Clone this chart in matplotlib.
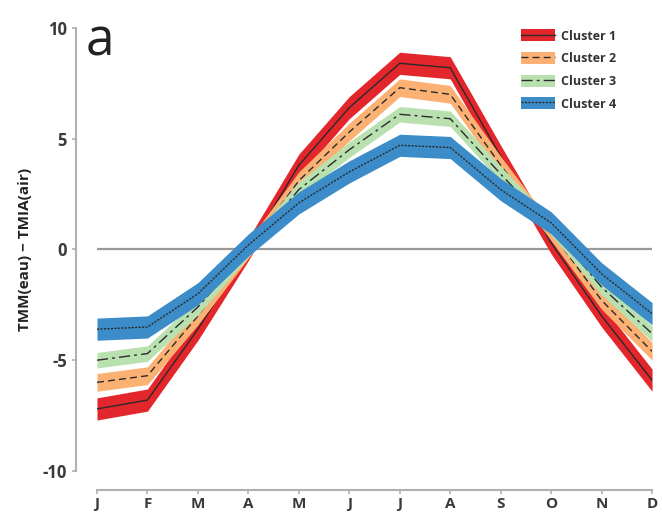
import matplotlib
matplotlib.use("Agg")

import numpy as np
import matplotlib.pyplot as plt
from matplotlib.patches import Patch
from matplotlib.lines import Line2D

# mois
months = ["J", "F", "M", "A", "M", "J", "J", "A", "S", "O", "N", "D"]

# TMM(eau) - TMIA(air) par cluster
cluster1 = [-7.2, -6.8, -3.6, 0.0, 3.8, 6.4, 8.4, 8.2, 4.2, 0.3, -3.0, -5.9]
cluster2 = [-6.0, -5.7, -3.0, 0.0, 3.1, 5.3, 7.3, 7.0, 3.8, 0.8, -2.3, -4.6]
cluster3 = [-5.0, -4.7, -2.6, 0.0, 2.7, 4.5, 6.1, 5.9, 3.4, 1.0, -1.7, -3.8]
cluster4 = [-3.6, -3.5, -2.0, 0.2, 2.1, 3.5, 4.7, 4.6, 2.7, 1.2, -1.1, -2.9]

# demi-largeur des bandes
spread = [0.5, 0.4, 0.35, 0.5]

names = ["Cluster 1", "Cluster 2", "Cluster 3", "Cluster 4"]
fills = ["#e3262b", "#fbb173", "#b9e1b0", "#3b8cc8"]
styles = ["-", (0, (5, 3)), (0, (8, 3, 2, 3)), (0, (1.5, 1))]

fig = plt.figure(figsize=(6.62, 5.21), dpi=100)
ax = fig.add_axes([0.1465, 0.096, 0.8385, 0.8505])

x = np.arange(len(months))
ax.plot([0, 11], [0, 0], color="#999999", lw=1.6, zorder=1)

handles = []
for i, vals in enumerate([cluster1, cluster2, cluster3, cluster4]):
    v = np.array(vals)
    ax.fill_between(x, v - spread[i], v + spread[i], color=fills[i], lw=0, zorder=2 + i)
    ax.plot(x, v, color="#2a2a2a", lw=1.0, ls=styles[i], zorder=2 + i)
    handles.append((Patch(facecolor=fills[i], edgecolor="none"),
                    Line2D([], [], color="#2a2a2a", lw=1.0, ls=styles[i])))

ax.set_xlim(0, 11)
ax.set_ylim(-10, 10)
ax.set_xticks(x)
ax.set_xticklabels(months)
ax.set_yticks([-10, -5, 0, 5, 10])
ax.set_yticklabels(["-10", "-5", "0", "5", "10"])

for s in ["top", "right"]:
    ax.spines[s].set_visible(False)
# décalage en points (21 px et 19 px à 100 dpi)
ax.spines["left"].set_position(("outward", 15))
ax.spines["bottom"].set_position(("outward", 13.5))
for s in ["left", "bottom"]:
    ax.spines[s].set_color("#b0b0b0")
    ax.spines[s].set_linewidth(1.5)
ax.tick_params(colors="#b0b0b0", length=3, width=1.2, labelcolor="#3a3a3a")
ax.tick_params(axis="x", pad=2)
for lab in ax.get_xticklabels():
    lab.set_fontsize(11)
for lab in ax.get_yticklabels():
    lab.set_fontsize(12)
for lab in ax.get_xticklabels() + ax.get_yticklabels():
    lab.set_fontweight("bold")
    lab.set_family("Open Sans")

ax.set_ylabel("TMM(eau) \u2212 TMIA(air)", fontsize=11, fontweight="bold",
              family="Open Sans", color="#222222", labelpad=8)

ax.text(-0.22, 10.5, "a", fontsize=37, family="Open Sans", color="#222222",
        ha="left", va="top")

leg = fig.legend(handles, names, loc="upper left", bbox_to_anchor=(0.77, 0.965),
                 frameon=False, handlelength=2.7, handleheight=1.1, handletextpad=0.5,
                 labelspacing=0.75, prop={"family": "Open Sans", "weight": "bold", "size": 9})
for t in leg.get_texts():
    t.set_color("#333333")

fig.savefig("out.png", dpi=100)
